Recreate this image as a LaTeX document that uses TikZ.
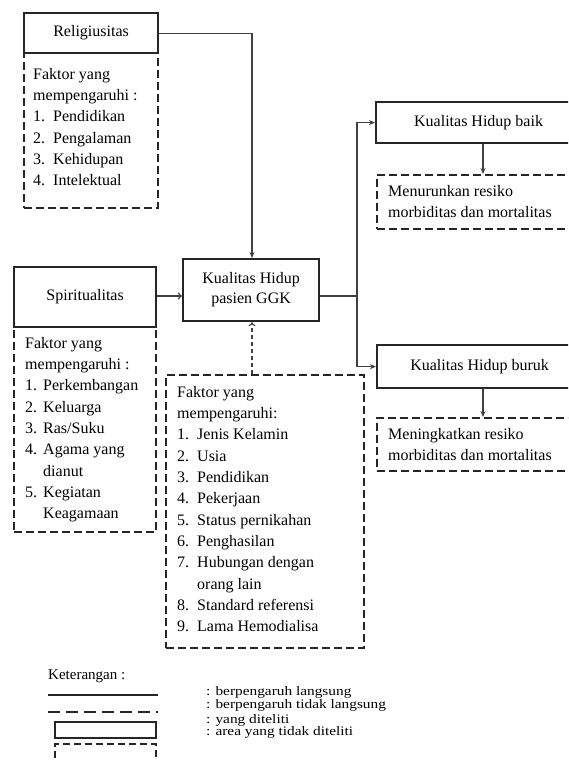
\documentclass[tikz,border=0pt]{standalone}
\usepackage{fontspec}
\usepackage{graphicx}
\setmainfont{Liberation Serif}
\usetikzlibrary{arrows.meta}
\tikzset{
  solidbox/.style={draw=black!85, line width=2.2pt, inner sep=0pt, font=\fontsize{16pt}{20pt}\selectfont},
  dashbox/.style={draw=black!85, line width=2.2pt, dash pattern=on 8pt off 4pt, inner sep=0pt},
  conn/.style={line width=1.1pt, draw=black!75},
  txt/.style={inner sep=0pt, font=\fontsize{16pt}{21.3pt}\selectfont, align=left, anchor=north west},
  legtxt/.style={inner sep=0pt, font=\fontsize{13pt}{13pt}\selectfont, anchor=base west},
  fill arrow/.style={-{Stealth[length=6pt,width=5pt]}},
  open arrow/.style={-{To[length=4pt,width=7pt]}}
}
\newcommand{\itm}[2]{\makebox[#1][l]{#2}}
\newcommand{\wide}[1]{\scalebox{1.18}[1]{#1}}
\begin{document}
\begin{tikzpicture}[x=1pt,y=-1pt]
\clip (0,0) rectangle (568,760);
\fill[white] (0,0) rectangle (568,760);

% Religiusitas
\node[dashbox, anchor=north west, minimum width=134pt, minimum height=155pt] (relf) at (23,52) {};
\node[solidbox, anchor=north west, minimum width=134pt, minimum height=40pt] (rel) at (23,12) {Religiusitas};
\node[txt] (relt) at (33,68) {Faktor yang\\mempengaruhi :\\\itm{20pt}{1.}Pendidikan\\\itm{20pt}{2.}Pengalaman\\\itm{20pt}{3.}Kehidupan\\\itm{20pt}{4.}Intelektual};

% Spiritualitas
\node[dashbox, anchor=north west, minimum width=142pt, minimum height=205pt] (spf) at (13,326) {};
\node[solidbox, anchor=north west, minimum width=142pt, minimum height=60pt] (sp) at (13,266) {Spiritualitas};
\node[txt] (spt) at (25,337) {Faktor yang\\mempengaruhi :\\\itm{18pt}{1.}Perkembangan\\\itm{18pt}{2.}Keluarga\\\itm{18pt}{3.}Ras/Suku\\\itm{18pt}{4.}Agama yang\\\hspace*{18pt}dianut\\\itm{18pt}{5.}Kegiatan\\\hspace*{18pt}Keagamaan};

% Center
\node[solidbox, anchor=north west, minimum width=136pt, minimum height=62pt, align=center] (kq) at (182,258) {Kualitas Hidup\\pasien GGK};

% Factors
\node[dashbox, anchor=north west, minimum width=198pt, minimum height=273pt] (fac) at (165,374) {};
\node[txt] (fact) at (177,386) {Faktor yang\\mempengaruhi:\\\itm{20pt}{1.}Jenis Kelamin\\\itm{20pt}{2.}Usia\\\itm{20pt}{3.}Pendidikan\\\itm{20pt}{4.}Pekerjaan\\\itm{20pt}{5.}Status pernikahan\\\itm{20pt}{6.}Penghasilan\\\itm{20pt}{7.}Hubungan dengan\\\hspace*{20pt}orang lain\\\itm{20pt}{8.}Standard referensi\\\itm{20pt}{9.}Lama Hemodialisa};

% Right side
\node[solidbox, anchor=north west, minimum width=205pt, minimum height=41pt] (baik) at (375,101) {Kualitas Hidup baik};
\node[dashbox, anchor=north west, minimum width=205pt, minimum height=54pt] (baikf) at (376,174) {};
\node[txt] (baikt) at (388,185) {Menurunkan resiko\\morbiditas dan mortalitas};
\node[solidbox, anchor=north west, minimum width=205pt, minimum height=43pt] (buruk) at (376,344) {Kualitas Hidup buruk};
\node[dashbox, anchor=north west, minimum width=205pt, minimum height=53pt] (burukf) at (376,417) {};
\node[txt] (burukt) at (388,428) {Meningkatkan resiko\\morbiditas dan mortalitas};

% Connectors
\coordinate (j) at (357,296);
\coordinate (rx) at (252,0);
\draw[conn, fill arrow] (rel.east) -| (rx |- kq.north);
\draw[conn, open arrow] (sp.east |- j) -- (kq.west |- j);
\draw[conn] (kq.east |- j) -- (j);
\draw[conn, fill arrow] (j) |- (baik.west);
\draw[conn, fill arrow] (j) |- (buruk.west);
\coordinate (dx) at (483,0);
\draw[conn, fill arrow] (dx |- baik.south) -- (dx |- baikf.north);
\draw[conn, fill arrow] (dx |- buruk.south) -- (dx |- burukf.north);
\draw[conn, dash pattern=on 4pt off 3pt, open arrow] (rx |- fac.north) -- (rx |- kq.south);

% Legend
\node[inner sep=0pt, font=\fontsize{15pt}{15pt}\selectfont, anchor=base west] (ket) at (48,679) {Keterangan :};
\coordinate (l1a) at (48,695); \coordinate (l1b) at (158,695);
\draw[line width=2.2pt, black!85] (l1a) -- (l1b);
\coordinate (l2a) at (48,712); \coordinate (l2b) at (158,712);
\draw[line width=2.2pt, black!85, dash pattern=on 12pt off 6pt] (l2a) -- (l2b);
\node[solidbox, anchor=north west, minimum width=101pt, minimum height=16pt] (lr1) at (54,721) {};
\node[dashbox, anchor=north west, minimum width=101pt, minimum height=22pt, dash pattern=on 7pt off 4pt] (lr2) at (54,743) {};
\node[legtxt] (lt1) at (206,695.5) {\wide{: berpengaruh langsung}};
\node[legtxt] (lt2) at (206,708) {\wide{: berpengaruh tidak langsung}};
\node[legtxt] (lt3) at (206,723.5) {\wide{: yang diteliti}};
\node[legtxt] (lt4) at (206,735.5) {\wide{: area yang tidak diteliti}};
\end{tikzpicture}
\end{document}
